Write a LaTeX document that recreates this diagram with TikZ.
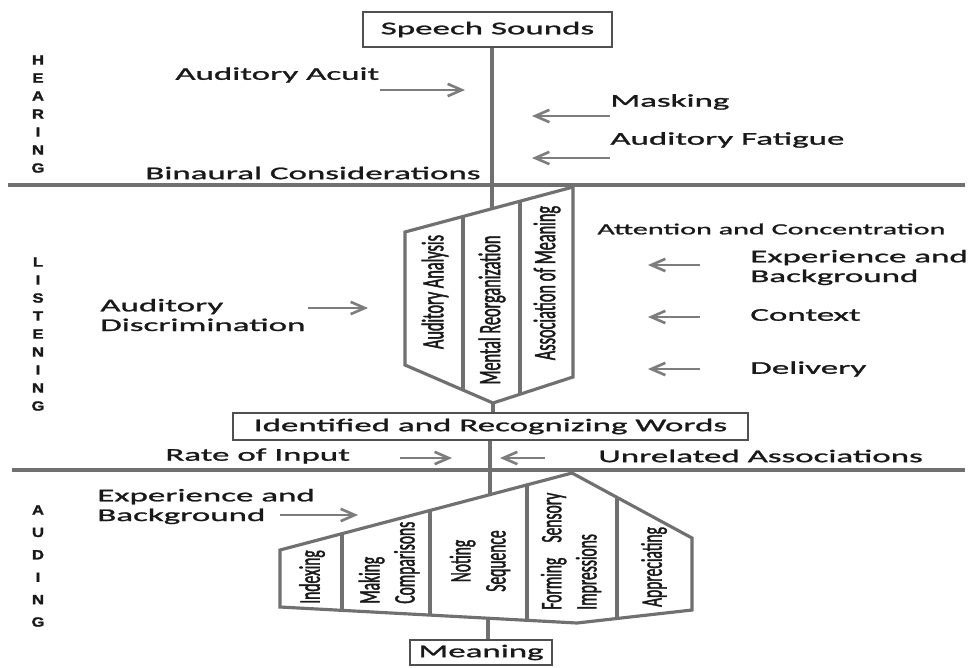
\documentclass[tikz,border=0pt]{standalone}
\usepackage{fontspec}
\setmainfont{Carlito}[FakeStretch=1.95, FakeBold=1.3]
\newfontfamily\narrowfont{Carlito}[FakeStretch=0.52, FakeBold=1.2]
\newfontfamily\stackfont{Liberation Sans}[FakeStretch=1.25, FakeBold=1.5]
\usetikzlibrary{positioning, calc, arrows.meta}
\definecolor{linegray}{RGB}{112,112,112}
\definecolor{boxgray}{RGB}{80,80,80}
\definecolor{arrowgray}{RGB}{125,125,125}
\definecolor{inkblack}{RGB}{25,25,25}

\tikzset{
    txt/.style={anchor=west, inner sep=0pt, text=inkblack, align=left,
        font=\fontsize{10.2}{11.2}\selectfont},
    smalltxt/.style={txt, font=\fontsize{8.8}{10}\selectfont},
    stagebox/.style={draw=boxgray, line width=1.5pt, inner sep=0pt, text=inkblack,
        font=\fontsize{10.2}{11.2}\selectfont},
    feed/.style={-{Straight Barb[length=8pt, width=7pt]}, draw=arrowgray, line width=1.5pt},
    stage/.style={draw=linegray, line width=1.8pt, line join=miter},
    coltxt/.style={rotate=90, inner sep=0pt, text=inkblack, align=left,
        font=\narrowfont\fontsize{17}{20}\selectfont},
    letter/.style={inner sep=0pt, text=inkblack, font=\stackfont\bfseries\fontsize{7.6}{8}\selectfont}
}

\begin{document}
\begin{tikzpicture}[x=0.02cm, y=-0.02cm]
    \fill[white] (0,0) rectangle (969,667);
    \useasboundingbox (0,0) rectangle (969,667);

    % stage letters
    \foreach \l [count=\i] in {H,E,A,R,I,N,G}
        \node[letter] (hear\i) at (38,{42+18*\i}) {\l};
    \foreach \l [count=\i] in {L,I,S,T,E,N,I,N,G}
        \node[letter] (list\i) at (38,{244+18*\i}) {\l};
    \foreach \l [count=\i] in {A,U,D,I,N,G}
        \node[letter] (aud\i) at (38,{487.6+22.4*\i}) {\l};

    % dividers between stages
    \coordinate (sepa-l) at (8,185);
    \coordinate (sepa-r) at (965,185);
    \coordinate (sepb-l) at (12,470);
    \coordinate (sepb-r) at (965,470);
    \draw[stage] (sepa-l) -- (sepa-r);
    \draw[stage] (sepb-l) -- (sepb-r);

    % boxes on the main line
    \node[stagebox, minimum width=4.98cm, minimum height=0.7cm] (speech) at (487.5,29.5) {Speech Sounds};
    \node[stagebox, minimum width=10.3cm, minimum height=0.54cm] (words) at (490.5,426.5) {Identified and Recognizing Words};
    \node[stagebox, minimum width=2.84cm, minimum height=0.5cm] (meaning) at (481,652.5) {Meaning};

    % listening block
    \coordinate (ltop) at (492,209);
    \coordinate (lbot) at (493,403);
    \draw[stage] (405,232) -- (573,187) -- (573,377) -- (lbot) -- (405,365) -- cycle;
    \draw[stage] (463,216.5) -- (463,390);
    \draw[stage] (520,201.5) -- (520,394);
    \node[coltxt, font=\narrowfont\fontsize{17.8}{20}\selectfont] (analysis) at (435,292) {Auditory Analysis};
    \node[coltxt, font=\narrowfont\fontsize{17.8}{20}\selectfont] (reorg) at (492,310) {Mental Reorganization};
    \node[coltxt, font=\narrowfont\fontsize{17.8}{20}\selectfont] (assoc) at (547,283) {Association of Meaning};

    % auding block
    \coordinate (atop) at (490,494.6);
    \coordinate (abot) at (488,618.2);
    \draw[stage] (280,550) -- (572,473) -- (692,538) -- (692,610) -- (577,623) -- (280,607) -- cycle;
    \draw[stage] (342,533.6) -- (342,610.3);
    \draw[stage] (430,510.4) -- (430,615.1);
    \draw[stage] (527,484.8) -- (527,620.1);
    \draw[stage] (617,497.4) -- (617,618.5);
    \node[coltxt] (indexing) at (312,577) {Indexing};
    \node[coltxt, anchor=west] (comparing) at (389,604) {Making\\Comparisons};
    \node[coltxt, align=center] (sequence) at (480,561) {Noting\\Sequence};
    \node[coltxt, anchor=west] (forming) at (571,610) {\makebox[2.34cm][l]{Forming\hfill Sensory}\\Impressions};
    \node[coltxt] (appreciating) at (654,567) {Appreciating};

    % main line
    \draw[stage] (speech.south -| ltop) -- (ltop);
    \draw[stage] (lbot) -- (lbot |- words.north);
    \draw[stage] (atop |- words.south) -- (atop);
    \draw[stage] (abot) -- (abot |- meaning.north);

    % hearing factors
    \node[txt] (acuit) at (175,75) {Auditory Acuit};
    \node[txt] (masking) at (610,102) {Masking};
    \node[txt] (fatigue) at (610,140) {Auditory Fatigue};
    \node[txt] (binaural) at (145,173) {Binaural Considerations};
    \coordinate (acuit-s) at (380,90);
    \coordinate (acuit-e) at (465,90);
    \coordinate (masking-s) at (610,116);
    \coordinate (masking-e) at (532,116);
    \coordinate (fatigue-s) at (610,158);
    \coordinate (fatigue-e) at (532,158);
    \draw[feed] (acuit-s) -- (acuit-e);
    \draw[feed] (masking-s) -- (masking-e);
    \draw[feed] (fatigue-s) -- (fatigue-e);

    % listening factors
    \node[smalltxt] (attention) at (597,229) {Attention and Concentration};
    \node[txt] (experience) at (750,267.5) {Experience and\\Background};
    \node[txt] (context) at (750,315) {Context};
    \node[txt] (delivery) at (750,369) {Delivery};
    \node[txt] (discrim) at (100,315) {Auditory\\Discrimination};
    \coordinate (exp-s) at (700,265);
    \coordinate (exp-e) at (648,265);
    \coordinate (context-s) at (700,317);
    \coordinate (context-e) at (648,317);
    \coordinate (delivery-s) at (700,369);
    \coordinate (delivery-e) at (648,369);
    \coordinate (discrim-s) at (308,308);
    \coordinate (discrim-e) at (368,308);
    \draw[feed] (exp-s) -- (exp-e);
    \draw[feed] (context-s) -- (context-e);
    \draw[feed] (delivery-s) -- (delivery-e);
    \draw[feed] (discrim-s) -- (discrim-e);

    % auding factors
    \node[txt] (rate) at (165,456) {Rate of Input};
    \node[txt] (unrelated) at (598,456) {Unrelated Associations};
    \node[txt] (background) at (97,506.5) {Experience and\\Background};
    \coordinate (rate-s) at (400,458);
    \coordinate (rate-e) at (452,458);
    \coordinate (unrel-s) at (545,458);
    \coordinate (unrel-e) at (500,458);
    \coordinate (bg-s) at (280,515);
    \coordinate (bg-e) at (358,515);
    \draw[feed] (rate-s) -- (rate-e);
    \draw[feed] (unrel-s) -- (unrel-e);
    \draw[feed] (bg-s) -- (bg-e);
\end{tikzpicture}
\end{document}
